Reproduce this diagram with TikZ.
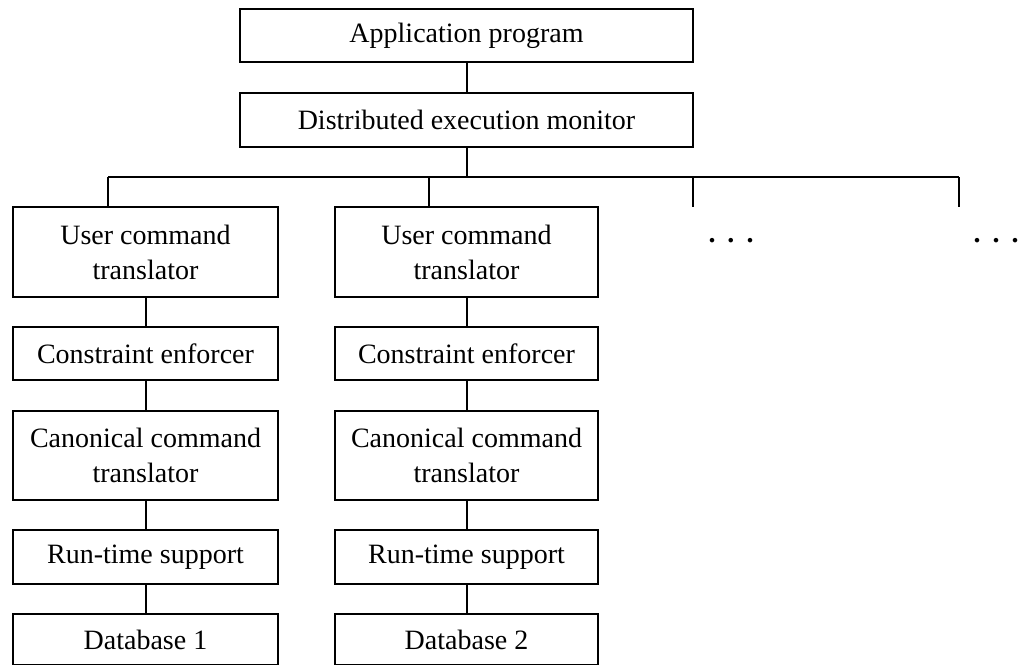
\documentclass[tikz,border=0pt]{standalone}
\usepackage{fontspec}
\setmainfont{Liberation Serif}
\begin{document}
\begin{tikzpicture}[x=1pt,y=-1pt,
  box/.style={draw,line width=2pt,inner sep=0pt,align=center,
    font=\fontsize{28}{35}\selectfont},
  link/.style={line width=2pt},
  dots/.style={inner sep=0pt,font=\fontsize{28}{35}\selectfont\bfseries}]
\useasboundingbox (0,0) rectangle (1024,664);

% top of the hierarchy
\node[box,minimum width=453pt,minimum height=53pt] (app) at (466.5,35.5) {Application program};
\node[box,minimum width=453pt,minimum height=54pt] (dem) at (466.5,120) {Distributed execution monitor};

% column 1
\node[box,minimum width=265pt,minimum height=90pt] (uct1) at (145.5,252) {User command\\translator};
\node[box,minimum width=265pt,minimum height=53pt] (ce1)  at (145.5,353.5) {Constraint enforcer};
\node[box,minimum width=265pt,minimum height=89pt] (cct1) at (145.5,455.5) {Canonical command\\translator};
\node[box,minimum width=265pt,minimum height=54pt] (rts1) at (145.5,557) {Run-time support};
\node[box,minimum width=265pt,minimum height=51pt] (db1)  at (145.5,639.5) {Database 1};

% column 2
\node[box,minimum width=263pt,minimum height=90pt] (uct2) at (466.5,252) {User command\\translator};
\node[box,minimum width=263pt,minimum height=53pt] (ce2)  at (466.5,353.5) {Constraint enforcer};
\node[box,minimum width=263pt,minimum height=89pt] (cct2) at (466.5,455.5) {Canonical command\\translator};
\node[box,minimum width=263pt,minimum height=54pt] (rts2) at (466.5,557) {Run-time support};
\node[box,minimum width=263pt,minimum height=51pt] (db2)  at (466.5,639.5) {Database 2};

% further columns, elided
\node[dots] (more3) at (731,241) {.\hspace{12pt}.\hspace{12pt}.};
\node[dots] (more4) at (996,241) {.\hspace{12pt}.\hspace{12pt}.};

% bus and its drops
\coordinate (j1) at (108,177);
\coordinate (j2) at (429,177);
\coordinate (j3) at (693,177);
\coordinate (j4) at (959,177);
\coordinate (e3) at (693,207);
\coordinate (e4) at (959,207);

\draw[link] (app) -- (dem);
\draw[link] (dem.south) -- (dem.south |- j1);
\draw[link] (j1) -- (j4);
\draw[link] (j1) -- (j1 |- uct1.north);
\draw[link] (j2) -- (j2 |- uct2.north);
\draw[link] (j3) -- (e3);
\draw[link] (j4) -- (e4);

% chains within each column
\draw[link] (uct1) -- (ce1);
\draw[link] (ce1) -- (cct1);
\draw[link] (cct1) -- (rts1);
\draw[link] (rts1) -- (db1);
\draw[link] (uct2) -- (ce2);
\draw[link] (ce2) -- (cct2);
\draw[link] (cct2) -- (rts2);
\draw[link] (rts2) -- (db2);
\end{tikzpicture}
\end{document}
